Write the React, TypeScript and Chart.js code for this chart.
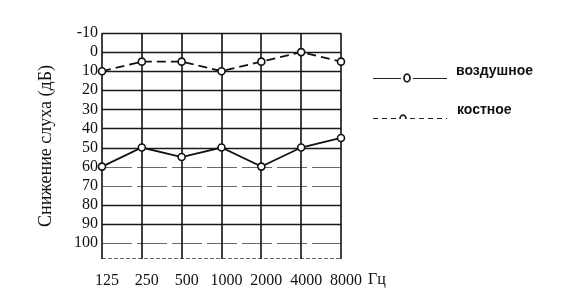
import React, { useEffect, useRef } from 'react';
import { Chart, registerables } from 'chart.js';

Chart.register(...registerables);

const frequencies = ['125', '250', '500', '1000', '2000', '4000', '8000'];
const airConduction = [60, 50, 55, 50, 60, 50, 45];
const boneConduction = [10, 5, 5, 10, 5, 0, 5];
const solidGridValues = [-10, 0, 10, 20, 30, 40, 50, 80, 90];
const dashedGridValues = [60, 70, 100];
const yAxisTitle = 'Снижение слуха (дБ)';
const xUnit = 'Гц';
const legendLabels = ['воздушное', 'костное'];

const SERIF = '"Liberation Serif", "DejaVu Serif", serif';
const SANS = '"Liberation Sans", Arial, sans-serif';
const X_LABEL_OFFSET = 5;

const gridPlugin = {
  id: 'audioGrid',
  beforeDatasetsDraw(chart: any) {
    const { ctx, chartArea, scales } = chart;
    const { left, right, top, bottom } = chartArea;
    const y = scales.y;
    const x = scales.x;
    ctx.save();
    ctx.strokeStyle = '#1a1a1a';
    ctx.lineWidth = 1.3;
    ctx.setLineDash([]);
    for (const v of solidGridValues) {
      const py = Math.round(y.getPixelForValue(v)) + 0.5;
      ctx.beginPath();
      ctx.moveTo(left, py);
      ctx.lineTo(right, py);
      ctx.stroke();
    }
    ctx.strokeStyle = '#6a6a6a';
    ctx.lineWidth = 1;
    ctx.setLineDash([30, 5]);
    for (const v of dashedGridValues) {
      const py = Math.round(y.getPixelForValue(v)) + 0.5;
      ctx.beginPath();
      ctx.moveTo(left, py);
      ctx.lineTo(right, py);
      ctx.stroke();
    }
    ctx.setLineDash([4, 2]);
    ctx.beginPath();
    ctx.moveTo(left, Math.round(bottom) - 0.5);
    ctx.lineTo(right, Math.round(bottom) - 0.5);
    ctx.stroke();
    ctx.setLineDash([]);
    ctx.strokeStyle = '#111';
    ctx.lineWidth = 1.6;
    for (let i = 0; i < frequencies.length; i++) {
      const px = Math.round(x.getPixelForValue(i));
      ctx.beginPath();
      ctx.moveTo(px, top);
      ctx.lineTo(px, bottom);
      ctx.stroke();
    }
    ctx.restore();
  },
  afterDraw(chart: any) {
    const { ctx, scales } = chart;
    const x = scales.x;
    ctx.save();
    ctx.fillStyle = '#111';
    ctx.font = `18px ${SERIF}`;
    ctx.translate(46, 146);
    ctx.rotate(-Math.PI / 2);
    ctx.textAlign = 'center';
    ctx.textBaseline = 'middle';
    ctx.fillText(yAxisTitle, 0, 0);
    ctx.restore();

    ctx.save();
    ctx.font = `16px ${SERIF}`;
    ctx.fillStyle = '#111';
    const lastIdx = frequencies.length - 1;
    const lastLabel = frequencies[lastIdx];
    const lx = x.getPixelForValue(lastIdx) + X_LABEL_OFFSET + ctx.measureText(lastLabel).width / 2;
    ctx.textAlign = 'left';
    ctx.textBaseline = 'middle';
    ctx.fillText(xUnit, lx + 6, 280);
    ctx.restore();

    ctx.save();
    ctx.strokeStyle = '#222';
    ctx.fillStyle = '#111';
    ctx.lineWidth = 1.2;
    ctx.setLineDash([]);
    ctx.beginPath();
    ctx.moveTo(373, 78.5);
    ctx.lineTo(401, 78.5);
    ctx.moveTo(413, 78.5);
    ctx.lineTo(447, 78.5);
    ctx.stroke();
    ctx.lineWidth = 1.8;
    ctx.beginPath();
    ctx.ellipse(407, 78, 3, 3.8, 0, 0, Math.PI * 2);
    ctx.stroke();
    ctx.lineWidth = 1;
    ctx.setLineDash([5, 4]);
    ctx.beginPath();
    ctx.moveTo(373, 118.5);
    ctx.lineTo(397, 118.5);
    ctx.moveTo(410, 118.5);
    ctx.lineTo(447, 118.5);
    ctx.stroke();
    ctx.setLineDash([]);
    ctx.lineWidth = 1.8;
    ctx.beginPath();
    ctx.ellipse(403, 119, 3, 3.8, 0, Math.PI, Math.PI * 2);
    ctx.stroke();
    ctx.font = `bold 14px ${SANS}`;
    ctx.textAlign = 'left';
    ctx.textBaseline = 'alphabetic';
    ctx.fillText(legendLabels[0], 456, 75);
    ctx.fillText(legendLabels[1], 457, 114);
    ctx.restore();
  },
};

export default function App() {
  const canvasRef = useRef<HTMLCanvasElement | null>(null);

  useEffect(() => {
    if (!canvasRef.current) return;
    const chart = new Chart(canvasRef.current, {
      type: 'line',
      data: {
        labels: frequencies,
        datasets: [
          {
            label: legendLabels[0],
            data: airConduction,
            borderColor: '#111',
            borderWidth: 1.8,
            pointRadius: 3.5,
            pointBackgroundColor: '#fff',
            pointBorderColor: '#111',
            pointBorderWidth: 1.6,
            tension: 0,
            fill: false,
          },
          {
            label: legendLabels[1],
            data: boneConduction,
            borderColor: '#111',
            borderWidth: 1.8,
            borderDash: [9, 5],
            pointRadius: 3.5,
            pointBackgroundColor: '#fff',
            pointBorderColor: '#111',
            pointBorderWidth: 1.6,
            tension: 0,
            fill: false,
          },
        ],
      },
      options: {
        animation: false,
        responsive: false,
        devicePixelRatio: 1,
        layout: { padding: { left: 0, right: 237, top: 33, bottom: 0 } },
        plugins: {
          legend: { display: false },
          tooltip: { enabled: false },
        },
        scales: {
          x: {
            type: 'category',
            offset: false,
            grid: { display: false, drawTicks: false },
            border: { display: false },
            ticks: {
              color: '#111',
              font: { family: SERIF, size: 16 },
              labelOffset: X_LABEL_OFFSET,
              padding: 12,
              maxRotation: 0,
              autoSkip: false,
            },
            afterFit: (scale: any) => {
              scale.height = 46;
            },
          },
          y: {
            type: 'linear',
            reverse: true,
            min: -10,
            max: 108.4,
            grid: { display: false, drawTicks: false },
            border: { display: false },
            ticks: {
              stepSize: 10,
              includeBounds: false,
              autoSkip: false,
              color: '#111',
              font: { family: SERIF, size: 16 },
              padding: 4,
              callback: (v: any) => String(v),
            },
            afterFit: (scale: any) => {
              scale.width = 102;
            },
          },
        },
      },
      plugins: [gridPlugin],
    });
    return () => chart.destroy();
  }, []);

  return (
    <div style={{ position: 'fixed', left: 0, top: 0, width: 578, height: 305, background: '#fff' }}>
      <canvas ref={canvasRef} width={578} height={305} />
    </div>
  );
}
